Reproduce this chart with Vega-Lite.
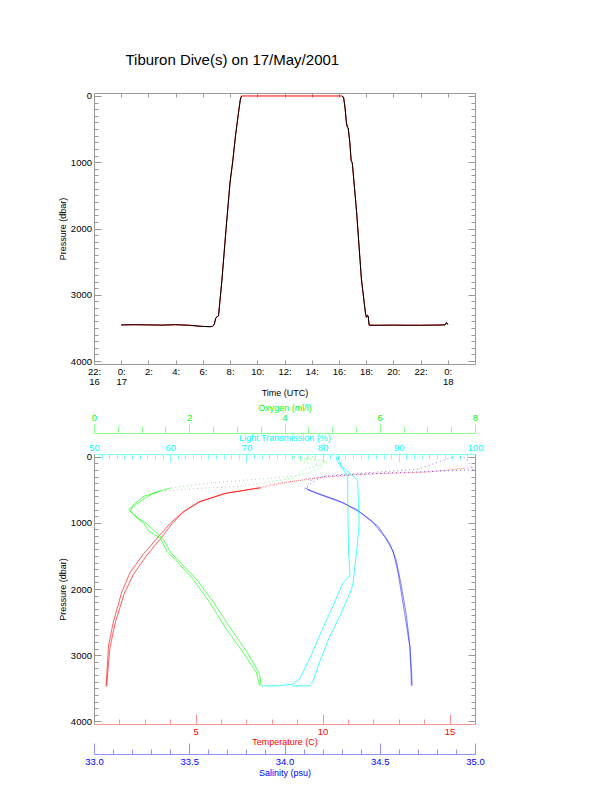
{
"$schema": "https://vega.github.io/schema/vega-lite/v6.json",
"padding": {"left": 58, "top": 52, "right": 10, "bottom": 5},
"config": {
  "font": "Liberation Sans",
  "view": {"stroke": null},
  "axis": {"labelFont": "Liberation Sans", "titleFont": "Liberation Sans", "labelFontSize": 9.5, "titleFontSize": 9, "titleFontWeight": "normal", "labelFlush": false, "labelOverlap": false, "labelBound": false, "grid": false, "domainWidth": 1, "tickWidth": 1, "labelColor": "black", "titleColor": "black"}
},
"title": {"text": "Tiburon Dive(s) on 17/May/2001", "fontSize": 15, "font": "Liberation Sans", "fontWeight": "normal", "anchor": "middle", "dx": -39, "offset": 23, "color": "black"},
"spacing": 6,
"datasets": {
  "dive": [
    {"seg":"d1","t":0,"p":3455},{"seg":"d1","t":1,"p":3452},{"seg":"d1","t":2,"p":3455},{"seg":"d1","t":3,"p":3458},{"seg":"d1","t":4,"p":3452},{"seg":"d1","t":5,"p":3460},{"seg":"d1","t":5.5,"p":3470},{"seg":"d1","t":6.0,"p":3478},{"seg":"d1","t":6.5,"p":3482},{"seg":"d1","t":6.7,"p":3478},{"seg":"d1","t":6.8,"p":3460},{"seg":"d1","t":6.85,"p":3440},{"seg":"d1","t":6.95,"p":3350},{"seg":"d1","t":7.05,"p":3330},{"seg":"d1","t":7.15,"p":3320},{"seg":"d1","t":7.4,"p":2780},{"seg":"d1","t":7.7,"p":2020},{"seg":"d1","t":8.0,"p":1300},{"seg":"d1","t":8.2,"p":980},{"seg":"d1","t":8.4,"p":600},{"seg":"d1","t":8.6,"p":280},{"seg":"d1","t":8.75,"p":60},{"seg":"d1","t":8.8,"p":20},{"seg":"d1","t":8.85,"p":0},
    {"seg":"surf","t":8.86,"p":0},{"seg":"surf","t":12,"p":0},{"seg":"surf","t":16.24,"p":0},
    {"seg":"d2","t":16.25,"p":0},{"seg":"d2","t":16.35,"p":30},{"seg":"d2","t":16.45,"p":180},{"seg":"d2","t":16.55,"p":400},{"seg":"d2","t":16.62,"p":470},{"seg":"d2","t":16.68,"p":480},{"seg":"d2","t":16.8,"p":700},{"seg":"d2","t":16.9,"p":980},{"seg":"d2","t":16.97,"p":1000},{"seg":"d2","t":17.0,"p":1050},{"seg":"d2","t":17.3,"p":1750},{"seg":"d2","t":17.65,"p":2760},{"seg":"d2","t":17.95,"p":3280},{"seg":"d2","t":18.02,"p":3340},{"seg":"d2","t":18.1,"p":3310},{"seg":"d2","t":18.15,"p":3320},{"seg":"d2","t":18.22,"p":3460},{"seg":"d2","t":19,"p":3460},{"seg":"d2","t":20,"p":3458},{"seg":"d2","t":21,"p":3460},{"seg":"d2","t":22,"p":3460},{"seg":"d2","t":23,"p":3458},{"seg":"d2","t":23.8,"p":3455},{"seg":"d2","t":23.9,"p":3420},{"seg":"d2","t":24.0,"p":3450}
  ],
  "prof": [
    {"v":"T","c":"a","z":"d","p":470,"x":7.6},{"v":"T","c":"a","z":"d","p":550,"x":6.24},{"v":"T","c":"a","z":"d","p":675,"x":5.2},{"v":"T","c":"a","z":"d","p":826,"x":4.54},{"v":"T","c":"a","z":"d","p":1000,"x":4.02},{"v":"T","c":"a","z":"d","p":1230,"x":3.49},{"v":"T","c":"a","z":"d","p":1475,"x":2.94},{"v":"T","c":"a","z":"d","p":1750,"x":2.42},{"v":"T","c":"a","z":"d","p":2050,"x":2.09},{"v":"T","c":"a","z":"d","p":2500,"x":1.76},{"v":"T","c":"a","z":"d","p":2860,"x":1.57},{"v":"T","c":"a","z":"d","p":3260,"x":1.51},{"v":"T","c":"a","z":"d","p":3380,"x":1.49},{"v":"T","c":"a","z":"d","p":3470,"x":1.47},
    {"v":"T","c":"b","z":"d","p":470,"x":7.5},{"v":"T","c":"b","z":"d","p":560,"x":6.1},{"v":"T","c":"b","z":"d","p":690,"x":5.1},{"v":"T","c":"b","z":"d","p":840,"x":4.5},{"v":"T","c":"b","z":"d","p":1010,"x":4.08},{"v":"T","c":"b","z":"d","p":1250,"x":3.6},{"v":"T","c":"b","z":"d","p":1500,"x":3.06},{"v":"T","c":"b","z":"d","p":1780,"x":2.55},{"v":"T","c":"b","z":"d","p":2080,"x":2.18},{"v":"T","c":"b","z":"d","p":2520,"x":1.83},{"v":"T","c":"b","z":"d","p":2880,"x":1.63},{"v":"T","c":"b","z":"d","p":3270,"x":1.54},{"v":"T","c":"b","z":"d","p":3470,"x":1.5},
    {"v":"T","c":"a","z":"s","p":165,"x":15.9},{"v":"T","c":"a","z":"s","p":200,"x":15.0},{"v":"T","c":"a","z":"s","p":240,"x":13.9},{"v":"T","c":"a","z":"s","p":250,"x":12.0},{"v":"T","c":"a","z":"s","p":300,"x":10.2},{"v":"T","c":"a","z":"s","p":400,"x":8.4},{"v":"T","c":"a","z":"s","p":470,"x":7.6},
    {"v":"T","c":"b","z":"s","p":180,"x":15.5},{"v":"T","c":"b","z":"s","p":230,"x":14.2},{"v":"T","c":"b","z":"s","p":270,"x":11.5},{"v":"T","c":"b","z":"s","p":330,"x":9.5},{"v":"T","c":"b","z":"s","p":420,"x":8.0},{"v":"T","c":"b","z":"s","p":470,"x":7.5},
    {"v":"O","c":"a","z":"s","p":0,"x":4.6},{"v":"O","c":"a","z":"s","p":60,"x":4.3},{"v":"O","c":"a","z":"s","p":150,"x":4.8},{"v":"O","c":"a","z":"s","p":250,"x":4.5},{"v":"O","c":"a","z":"s","p":297,"x":4.19},{"v":"O","c":"a","z":"s","p":399,"x":2.44},{"v":"O","c":"a","z":"s","p":474,"x":1.6},
    {"v":"O","c":"a","z":"d","p":474,"x":1.6},{"v":"O","c":"a","z":"d","p":550,"x":1.25},{"v":"O","c":"a","z":"d","p":675,"x":0.97},{"v":"O","c":"a","z":"d","p":800,"x":0.73},{"v":"O","c":"a","z":"d","p":926,"x":0.9},{"v":"O","c":"a","z":"d","p":1002,"x":1.04},{"v":"O","c":"a","z":"d","p":1128,"x":1.15},{"v":"O","c":"a","z":"d","p":1228,"x":1.39},{"v":"O","c":"a","z":"d","p":1430,"x":1.53},{"v":"O","c":"a","z":"d","p":1575,"x":1.73},{"v":"O","c":"a","z":"d","p":1852,"x":2.08},{"v":"O","c":"a","z":"d","p":2204,"x":2.43},{"v":"O","c":"a","z":"d","p":2607,"x":2.78},{"v":"O","c":"a","z":"d","p":2959,"x":3.13},{"v":"O","c":"a","z":"d","p":3260,"x":3.41},{"v":"O","c":"a","z":"d","p":3462,"x":3.48},
    {"v":"O","c":"b","z":"s","p":0,"x":4.2},{"v":"O","c":"b","z":"s","p":80,"x":4.9},{"v":"O","c":"b","z":"s","p":200,"x":4.4},{"v":"O","c":"b","z":"s","p":322,"x":4.19},{"v":"O","c":"b","z":"s","p":448,"x":3.07},{"v":"O","c":"b","z":"s","p":484,"x":2.09},{"v":"O","c":"b","z":"s","p":524,"x":1.39},
    {"v":"O","c":"b","z":"d","p":524,"x":1.39},{"v":"O","c":"b","z":"d","p":600,"x":1.04},{"v":"O","c":"b","z":"d","p":725,"x":0.83},{"v":"O","c":"b","z":"d","p":825,"x":0.76},{"v":"O","c":"b","z":"d","p":940,"x":0.95},{"v":"O","c":"b","z":"d","p":1010,"x":1.1},{"v":"O","c":"b","z":"d","p":1240,"x":1.45},{"v":"O","c":"b","z":"d","p":1440,"x":1.6},{"v":"O","c":"b","z":"d","p":1590,"x":1.8},{"v":"O","c":"b","z":"d","p":1860,"x":2.16},{"v":"O","c":"b","z":"d","p":2210,"x":2.52},{"v":"O","c":"b","z":"d","p":2610,"x":2.88},{"v":"O","c":"b","z":"d","p":2960,"x":3.22},{"v":"O","c":"b","z":"d","p":3260,"x":3.46},{"v":"O","c":"b","z":"d","p":3360,"x":3.5},{"v":"O","c":"b","z":"d","p":3462,"x":3.5},
    {"v":"L","c":"a","z":"d","p":0,"x":81.8},{"v":"L","c":"a","z":"d","p":60,"x":81.9},{"v":"L","c":"a","z":"d","p":300,"x":83.3},{"v":"L","c":"a","z":"d","p":700,"x":83.3},{"v":"L","c":"a","z":"d","p":1400,"x":83.4},{"v":"L","c":"a","z":"d","p":1800,"x":83.6},{"v":"L","c":"a","z":"d","p":1900,"x":82.7},{"v":"L","c":"a","z":"d","p":2300,"x":81.2},{"v":"L","c":"a","z":"d","p":2600,"x":80.0},{"v":"L","c":"a","z":"d","p":3000,"x":78.5},{"v":"L","c":"a","z":"d","p":3360,"x":77.0},{"v":"L","c":"a","z":"d","p":3440,"x":76.0},{"v":"L","c":"a","z":"d","p":3462,"x":74.0},{"v":"L","c":"a","z":"d","p":3465,"x":72.0},
    {"v":"L","c":"b","z":"d","p":0,"x":82.0},{"v":"L","c":"b","z":"d","p":150,"x":82.5},{"v":"L","c":"b","z":"d","p":350,"x":84.6},{"v":"L","c":"b","z":"d","p":1000,"x":84.8},{"v":"L","c":"b","z":"d","p":1400,"x":84.5},{"v":"L","c":"b","z":"d","p":1900,"x":84.0},{"v":"L","c":"b","z":"d","p":2000,"x":83.8},{"v":"L","c":"b","z":"d","p":2400,"x":82.3},{"v":"L","c":"b","z":"d","p":2700,"x":81.0},{"v":"L","c":"b","z":"d","p":3100,"x":79.6},{"v":"L","c":"b","z":"d","p":3410,"x":78.7},{"v":"L","c":"b","z":"d","p":3462,"x":78.3},{"v":"L","c":"b","z":"d","p":3465,"x":76.0},
    {"v":"S","c":"a","z":"d","p":474,"x":34.106},{"v":"S","c":"a","z":"d","p":550,"x":34.17},{"v":"S","c":"a","z":"d","p":650,"x":34.27},{"v":"S","c":"a","z":"d","p":800,"x":34.38},{"v":"S","c":"a","z":"d","p":977,"x":34.46},{"v":"S","c":"a","z":"d","p":1228,"x":34.53},{"v":"S","c":"a","z":"d","p":1430,"x":34.57},{"v":"S","c":"a","z":"d","p":1751,"x":34.596},{"v":"S","c":"a","z":"d","p":2355,"x":34.63},{"v":"S","c":"a","z":"d","p":2859,"x":34.657},{"v":"S","c":"a","z":"d","p":3260,"x":34.664},{"v":"S","c":"a","z":"d","p":3462,"x":34.666},
    {"v":"S","c":"b","z":"d","p":500,"x":34.12},{"v":"S","c":"b","z":"d","p":600,"x":34.21},{"v":"S","c":"b","z":"d","p":700,"x":34.31},{"v":"S","c":"b","z":"d","p":850,"x":34.4},{"v":"S","c":"b","z":"d","p":1050,"x":34.49},{"v":"S","c":"b","z":"d","p":1300,"x":34.55},{"v":"S","c":"b","z":"d","p":1550,"x":34.585},{"v":"S","c":"b","z":"d","p":1900,"x":34.61},{"v":"S","c":"b","z":"d","p":2400,"x":34.64},{"v":"S","c":"b","z":"d","p":2900,"x":34.66},{"v":"S","c":"b","z":"d","p":3300,"x":34.668},{"v":"S","c":"b","z":"d","p":3462,"x":34.67},
    {"v":"S","c":"a","z":"s","p":5,"x":34.92},{"v":"S","c":"a","z":"s","p":20,"x":34.95},{"v":"S","c":"a","z":"s","p":200,"x":34.99},{"v":"S","c":"a","z":"s","p":240,"x":34.6},{"v":"S","c":"a","z":"s","p":270,"x":34.38},{"v":"S","c":"a","z":"s","p":300,"x":34.2},{"v":"S","c":"a","z":"s","p":380,"x":34.15},{"v":"S","c":"a","z":"s","p":474,"x":34.106},
    {"v":"S","c":"b","z":"s","p":10,"x":34.88},{"v":"S","c":"b","z":"s","p":190,"x":34.7},{"v":"S","c":"b","z":"s","p":230,"x":34.5},{"v":"S","c":"b","z":"s","p":280,"x":34.24},{"v":"S","c":"b","z":"s","p":330,"x":34.15},{"v":"S","c":"b","z":"s","p":420,"x":34.12},{"v":"S","c":"b","z":"s","p":500,"x":34.12}
  ]
},
"vconcat": [
  {
    "width": 381, "height": 271,
    "data": {"name": "dive"},
    "layer": [
      {"mark": {"type": "line", "color": "#ff0000", "strokeWidth": 1},
       "encoding": {
         "x": {"field": "t", "type": "quantitative", "scale": {"domain": [-2, 26], "nice": false, "zero": false},
               "axis": {"orient": "bottom", "values": [-2,0,2,4,6,8,10,12,14,16,18,20,22,24], "labelExpr": "datum.value == -2 ? ['22:', '16'] : datum.value == 0 ? ['0:', '17'] : datum.value == 24 ? ['0:', '18'] : format(datum.value, 'd') + ':'", "labelLineHeight": 10, "tickSize": -4, "tickColor": "#999999", "domainColor": "#999999", "labelPadding": 6.5, "title": "Time (UTC)", "titlePadding": 2}},
         "y": {"field": "p", "type": "quantitative", "scale": {"domain": [-45, 4045], "reverse": true, "nice": false, "zero": false},
               "axis": {"orient": "left", "values": [0,100,200,300,400,500,600,700,800,900,1000,1100,1200,1300,1400,1500,1600,1700,1800,1900,2000,2100,2200,2300,2400,2500,2600,2700,2800,2900,3000,3100,3200,3300,3400,3500,3600,3700,3800,3900,4000], "labelExpr": "datum.value % 1000 == 0 ? format(datum.value, 'd') : ''", "tickSize": {"condition": {"test": "datum.value % 1000 == 0", "value": -7}, "value": -4}, "tickColor": "#999999", "domainColor": "#999999", "labelPadding": 9.5, "title": "Pressure (dbar)", "titlePadding": 3}}
       }},
      {"transform": [{"filter": "datum.seg != 'surf'"}],
       "mark": {"type": "line", "color": "#000000", "strokeWidth": 1},
       "encoding": {
         "x": {"field": "t", "type": "quantitative", "scale": {"domain": [-2, 26], "nice": false, "zero": false},
               "axis": {"orient": "top", "values": [-2,0,2,4,6,8,10,12,14,16,18,20,22,24,26], "labels": false, "tickSize": -4, "tickColor": "#999999", "domainColor": "#999999", "title": null}},
         "y": {"field": "p", "type": "quantitative", "scale": {"domain": [-45, 4045], "reverse": true, "nice": false, "zero": false},
               "axis": {"orient": "right", "values": [0,100,200,300,400,500,600,700,800,900,1000,1100,1200,1300,1400,1500,1600,1700,1800,1900,2000,2100,2200,2300,2400,2500,2600,2700,2800,2900,3000,3100,3200,3300,3400,3500,3600,3700,3800,3900,4000], "labels": false, "tickSize": {"condition": {"test": "datum.value % 1000 == 0", "value": -7}, "value": -4}, "tickColor": "#999999", "domainColor": "#999999", "title": null}},
         "detail": {"field": "seg"}
       }}
    ],
    "resolve": {"scale": {"x": "independent", "y": "independent"}}
  },
  {
    "width": 381, "height": 270,
    "data": {"name": "prof"},
    "layer": [
      {"transform": [{"filter": "datum.v == 'T'"}],
       "encoding": {
         "x": {"field": "x", "type": "quantitative", "scale": {"domain": [1, 16], "nice": false, "zero": false},
               "axis": {"orient": "bottom", "values": [1,2,3,4,5,6,7,8,9,10,11,12,13,14,15,16], "labelExpr": "datum.value % 5 == 0 ? format(datum.value, 'd') : ''", "tickSize": {"condition": {"test": "datum.value % 5 == 0", "value": -10}, "value": -5}, "tickColor": "#ff9090", "domainColor": "#ff9090", "labelColor": "#ff0000", "titleColor": "#ff0000", "title": "Temperature (C)", "labelPadding": 12, "titlePadding": -3.5}},
         "y": {"field": "p", "type": "quantitative", "scale": {"domain": [-40, 4040], "reverse": true, "nice": false, "zero": false},
               "axis": {"orient": "left", "values": [0,100,200,300,400,500,600,700,800,900,1000,1100,1200,1300,1400,1500,1600,1700,1800,1900,2000,2100,2200,2300,2400,2500,2600,2700,2800,2900,3000,3100,3200,3300,3400,3500,3600,3700,3800,3900,4000], "labelExpr": "datum.value % 1000 == 0 ? format(datum.value, 'd') : ''", "tickSize": {"condition": {"test": "datum.value % 1000 == 0", "value": -7}, "value": -4}, "tickColor": "#999999", "domainColor": "#999999", "labelPadding": 9.5, "title": "Pressure (dbar)", "titlePadding": 3}},
         "detail": {"field": "c"},
         "order": {"field": "p", "type": "quantitative"}
       },
       "layer": [
         {"transform": [{"filter": "datum.z == 'd'"}], "mark": {"type": "line", "color": "#ff0000", "strokeWidth": 0.9, "opacity": 0.7}},
         {"transform": [{"filter": "datum.z == 's'"}], "mark": {"type": "line", "color": "#ff0000", "strokeWidth": 1, "opacity": 0.6, "strokeDash": [1, 3]}}
       ]},
      {"transform": [{"filter": "datum.v == 'S'"}],
       "encoding": {
         "x": {"field": "x", "type": "quantitative", "scale": {"domain": [33, 35], "nice": false, "zero": false},
               "axis": {"orient": "bottom", "offset": 30, "values": [33.0,33.1,33.2,33.3,33.4,33.5,33.6,33.7,33.8,33.9,34.0,34.1,34.2,34.3,34.4,34.5,34.6,34.7,34.8,34.9,35.0], "labelExpr": "abs(datum.value * 2 - round(datum.value * 2)) < 0.01 ? format(datum.value, '.1f') : ''", "tickSize": {"condition": {"test": "abs(datum.value * 2 - round(datum.value * 2)) < 0.01", "value": -11}, "value": -5}, "tickColor": "#9090ff", "domainColor": "#9090ff", "labelColor": "#0000ff", "titleColor": "#0000ff", "title": "Salinity (psu)", "labelPadding": 13, "titlePadding": -3.5}},
         "y": {"field": "p", "type": "quantitative", "scale": {"domain": [-40, 4040], "reverse": true, "nice": false, "zero": false},
               "axis": {"orient": "right", "values": [0,100,200,300,400,500,600,700,800,900,1000,1100,1200,1300,1400,1500,1600,1700,1800,1900,2000,2100,2200,2300,2400,2500,2600,2700,2800,2900,3000,3100,3200,3300,3400,3500,3600,3700,3800,3900,4000], "labels": false, "tickSize": {"condition": {"test": "datum.value % 1000 == 0", "value": -7}, "value": -4}, "tickColor": "#999999", "domainColor": "#999999", "title": null}},
         "detail": {"field": "c"},
         "order": {"field": "p", "type": "quantitative"}
       },
       "layer": [
         {"transform": [{"filter": "datum.z == 'd'"}], "mark": {"type": "line", "color": "#0000ff", "strokeWidth": 0.9, "opacity": 0.55}},
         {"transform": [{"filter": "datum.z == 's'"}], "mark": {"type": "line", "color": "#0000ff", "strokeWidth": 1, "opacity": 0.5, "strokeDash": [1, 3]}}
       ]},
      {"transform": [{"filter": "datum.v == 'O'"}],
       "encoding": {
         "x": {"field": "x", "type": "quantitative", "scale": {"domain": [0, 8], "nice": false, "zero": false},
               "axis": {"orient": "top", "offset": 21, "values": [0,0.5,1,1.5,2,2.5,3,3.5,4,4.5,5,5.5,6,6.5,7,7.5,8], "labelExpr": "datum.value % 2 == 0 ? format(datum.value, 'd') : ''", "tickSize": {"condition": {"test": "datum.value % 2 == 0", "value": 9}, "value": 7}, "tickColor": "#90ff90", "domainColor": "#90ff90", "labelColor": "#00ff00", "titleColor": "#00ff00", "title": "Oxygen (ml/l)", "labelPadding": 1.5, "titlePadding": -0.3}},
         "y": {"field": "p", "type": "quantitative", "scale": {"domain": [-40, 4040], "reverse": true, "nice": false, "zero": false}, "axis": null},
         "detail": {"field": "c"},
         "order": {"field": "p", "type": "quantitative"}
       },
       "layer": [
         {"transform": [{"filter": "datum.z == 'd'"}], "mark": {"type": "line", "color": "#00ff00", "strokeWidth": 0.9, "opacity": 0.7}},
         {"transform": [{"filter": "datum.z == 's'"}], "mark": {"type": "line", "color": "#00ff00", "strokeWidth": 1, "opacity": 0.6, "strokeDash": [1, 3]}}
       ]},
      {"transform": [{"filter": "datum.v == 'L'"}],
       "encoding": {
         "x": {"field": "x", "type": "quantitative", "scale": {"domain": [50, 100], "nice": false, "zero": false},
               "axis": {"orient": "top", "values": [50,51,52,53,54,55,56,57,58,59,60,61,62,63,64,65,66,67,68,69,70,71,72,73,74,75,76,77,78,79,80,81,82,83,84,85,86,87,88,89,90,91,92,93,94,95,96,97,98,99,100], "labelExpr": "datum.value % 10 == 0 ? format(datum.value, 'd') : ''", "tickSize": {"condition": {"test": "datum.value % 10 == 0", "value": -8}, "value": -5}, "tickColor": "#80ffff", "domainColor": "#80ffff", "labelColor": "#00ffff", "titleColor": "#00ffff", "title": "Light Transmission (%)", "labelPadding": 9.5, "titlePadding": -3.2}},
         "y": {"field": "p", "type": "quantitative", "scale": {"domain": [-40, 4040], "reverse": true, "nice": false, "zero": false}, "axis": null},
         "detail": {"field": "c"},
         "order": {"field": "p", "type": "quantitative"}
       },
       "layer": [
         {"transform": [{"filter": "datum.z == 'd'"}], "mark": {"type": "line", "color": "#00ffff", "strokeWidth": 0.9, "opacity": 0.8}}
       ]}
    ],
    "resolve": {"scale": {"x": "independent", "y": "independent"}}
  }
]
}
